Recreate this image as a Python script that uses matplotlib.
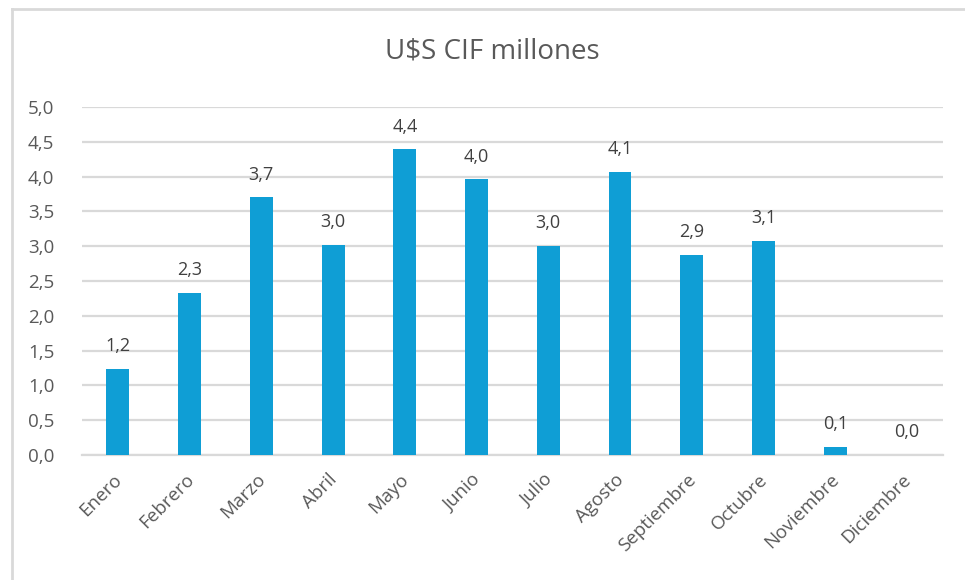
import matplotlib
matplotlib.use('Agg')
import matplotlib.pyplot as plt
import matplotlib.transforms as mtransforms
import numpy as np
from matplotlib.lines import Line2D

plt.rcParams['font.family'] = ['Open Sans', 'DejaVu Sans']

meses = ['Enero', 'Febrero', 'Marzo', 'Abril', 'Mayo', 'Junio', 'Julio',
         'Agosto', 'Septiembre', 'Octubre', 'Noviembre', 'Diciembre']
valores = [1.24, 2.33, 3.70, 3.02, 4.39, 3.96, 3.00, 4.07, 2.87, 3.07, 0.11, 0.0]
yticks = [0.0, 0.5, 1.0, 1.5, 2.0, 2.5, 3.0, 3.5, 4.0, 4.5, 5.0]

bar_color = '#0F9ED5'
grid_color = '#D9D9D9'
text_color = '#595959'

fig = plt.figure(figsize=(9.65, 5.8), dpi=100)
ax = fig.add_axes([0.085, 0.2155, 0.892, 0.60])

x = np.arange(len(meses))
bars = ax.bar(x, valores, width=0.32, color=bar_color, zorder=3)

ax.set_xlim(-0.5, len(meses) - 0.5)
ax.set_ylim(0, 5.0)
ax.set_yticks(yticks)
ax.set_yticklabels([f'{v:.1f}'.replace('.', ',') for v in yticks])
ax.yaxis.grid(True, color=grid_color, linewidth=1.6, zorder=0)
ax.tick_params(axis='y', length=0, pad=20, labelsize=13.5, labelcolor=text_color)
ax.tick_params(axis='x', length=0, pad=11, labelsize=13.5, labelcolor=text_color)
ax.set_xticks(x)
ax.set_xticklabels(meses, rotation=45, ha='right', va='top', rotation_mode='anchor')
shift = mtransforms.ScaledTranslation(-5 / 100, 0, fig.dpi_scale_trans)
for lbl in ax.get_xticklabels():
    lbl.set_transform(lbl.get_transform() + shift)
for s in ['top', 'right', 'left']:
    ax.spines[s].set_visible(False)
ax.spines['bottom'].set_color(grid_color)
ax.spines['bottom'].set_linewidth(1.6)

for xi, v in zip(x, valores):
    ax.annotate(f'{v:.1f}'.replace('.', ','), (xi, v), xytext=(0, 10),
                textcoords='offset points', ha='center', va='bottom',
                fontsize=13, color='#404040')

fig.text(0.51, 0.912, 'U$S CIF millones', ha='center', va='center',
         fontsize=20, color=text_color)

# chart border (top and left edges visible)
fig.add_artist(Line2D([0.0124, 1.0], [0.9845, 0.9845], transform=fig.transFigure,
                      color=grid_color, linewidth=2))
fig.add_artist(Line2D([0.0124, 0.0124], [0.0, 0.9845], transform=fig.transFigure,
                      color=grid_color, linewidth=2))

fig.savefig('out.png', dpi=100)
